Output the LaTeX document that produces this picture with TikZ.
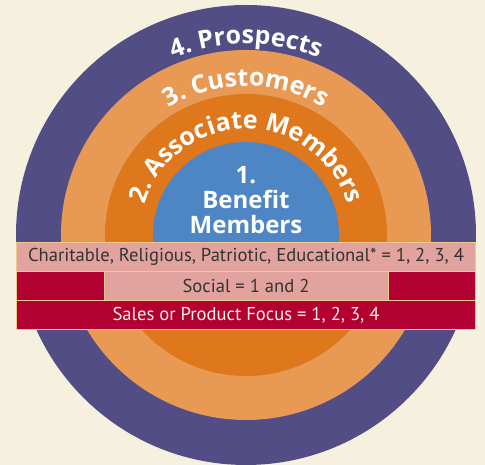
\documentclass[tikz,border=0pt]{standalone}
\usepackage{fontspec}
\setmainfont{PT Sans}
\newfontfamily\ringfont{Open Sans}
\usetikzlibrary{decorations.text}
\definecolor{paper}{HTML}{F6F0DF}
\definecolor{prospect}{HTML}{524D85}
\definecolor{customer}{HTML}{E89A55}
\definecolor{associate}{HTML}{DF781C}
\definecolor{benefit}{HTML}{4E86C5}
\definecolor{rose}{HTML}{E2A39E}
\definecolor{crimson}{HTML}{B30033}
\definecolor{rim}{HTML}{EDCB8F}
\tikzset{
  band/.style={draw=rim, line width=1pt, inner sep=0pt, minimum height=29pt,
    font=\fontsize{18.6}{18.6}\selectfont},
  ringlabel/.style={decorate, decoration={text along path, text align=center,
    text color=white}},
}
\begin{document}
\begin{tikzpicture}[x=1pt,y=1pt]
  \fill[paper] (0,0) rectangle (485,465);
  \useasboundingbox (0,0) rectangle (485,465);
  \coordinate (c) at (246,230);
  % rings
  \fill[prospect] (c) circle (230pt);
  \fill[customer] (c) circle (185pt);
  \fill[associate] (c) circle (141pt);
  \fill[benefit] (c) circle (93pt);
  % ring labels
  \path[ringlabel, decoration={text={|\ringfont\bfseries\fontsize{25}{25}\selectfont|4. Prospects}}]
    (c) ++(170:191pt) arc[start angle=170, end angle=10, radius=191pt];
  \path[ringlabel, decoration={text={|\ringfont\bfseries\fontsize{25}{25}\selectfont|3. Customers}}]
    (c) ++(170:149pt) arc[start angle=170, end angle=10, radius=149pt];
  \path[ringlabel, decoration={text={|\ringfont\bfseries\fontsize{25}{25}\selectfont|2. Associate Members}}]
    (c) ++(178:106pt) arc[start angle=178, end angle=2, radius=106pt];
  \node[text=white, align=center, font=\ringfont\bfseries\fontsize{24}{25}\selectfont]
    (members) at (246,265) {1.\\Benefit\\Members};
  % bands
  \node[band, fill=rose, text=black!80, minimum width=459pt] (charit) at (246,208)
    {Charitable, Religious, Patriotic, Educational* = 1, 2, 3, 4};
  \node[band, fill=crimson, minimum width=87.5pt, minimum height=29.5pt] (socl) at (60.25,178.75) {};
  \node[band, fill=rose, text=black!80, minimum width=284pt, minimum height=29.5pt] (social) at (246,178.75)
    {Social = 1 and 2};
  \node[band, fill=crimson, minimum width=87.5pt, minimum height=29.5pt] (socr) at (431.75,178.75) {};
  \node[band, fill=crimson, text=paper, minimum width=459pt] (sales) at (246,149.5)
    {Sales or Product Focus = 1, 2, 3, 4};
\end{tikzpicture}
\end{document}
